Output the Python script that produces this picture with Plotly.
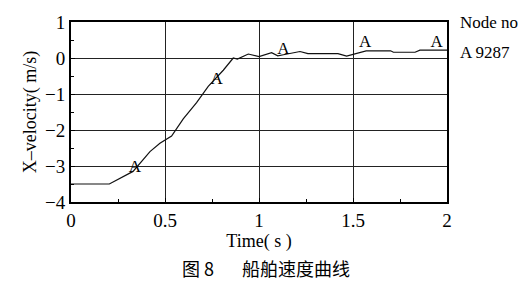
import plotly.graph_objects as go

time_s = [0.0, 0.204, 0.33, 0.42, 0.473, 0.49, 0.535, 0.597, 0.668, 0.73, 0.81, 0.863, 0.885,
          0.943, 1.0, 1.067, 1.10, 1.13, 1.218, 1.26, 1.32, 1.42, 1.466, 1.51, 1.57, 1.70,
          1.715, 1.83, 1.856, 2.0]
velocity = [-3.5, -3.5, -3.15, -2.6, -2.37, -2.32, -2.17, -1.69, -1.24, -0.79, -0.34, 0.0, -0.03,
            0.11, 0.04, 0.15, 0.06, 0.09, 0.18, 0.12, 0.12, 0.12, 0.05, 0.12, 0.2, 0.2,
            0.16, 0.16, 0.22, 0.22]

marker_t = [0.34, 0.775, 1.13, 1.565, 1.945]
marker_v = [-3.05, -0.6, 0.22, 0.42, 0.42]
marker_label = ["A", "A", "A", "A", "A"]

x_ticks = [0, 0.5, 1, 1.5, 2]
x_tick_text = ["0", "0.5", "1", "1.5", "2"]
y_ticks = [1, 0, -1, -2, -3, -4]
y_tick_text = ["1", "0", "−1", "−2", "−3", "−4"]

serif = "Liberation Serif"

fig = go.Figure()
fig.add_trace(go.Scatter(x=time_s, y=velocity, mode="lines",
                         line=dict(color="#111111", width=1.2), showlegend=False,
                         hoverinfo="skip"))
fig.add_trace(go.Scatter(x=marker_t, y=marker_v, mode="text", text=marker_label,
                         textfont=dict(family=serif, size=17, color="#000000"),
                         showlegend=False, hoverinfo="skip"))

fig.update_xaxes(range=[0, 2], tickvals=x_ticks, ticktext=x_tick_text,
                 showgrid=True, gridcolor="#222222", gridwidth=1,
                 showline=True, linecolor="#000000", linewidth=2, mirror=True,
                 ticks="inside", ticklen=4, tickcolor="#000000",
                 minor=dict(dtick=0.25, ticks="inside", ticklen=3, tickcolor="#000000", showgrid=False),
                 tickfont=dict(family=serif, size=19, color="#000000"),
                 title=dict(text="Time( s )", font=dict(family=serif, size=18, color="#000000"), standoff=2),
                 zeroline=False)
fig.update_yaxes(range=[-4, 1], tickvals=y_ticks, ticktext=y_tick_text,
                 showgrid=True, gridcolor="#222222", gridwidth=1,
                 showline=True, linecolor="#000000", linewidth=2, mirror=True,
                 ticks="inside", ticklen=4, tickcolor="#000000",
                 minor=dict(dtick=0.5, ticks="inside", ticklen=3, tickcolor="#000000", showgrid=False),
                 tickfont=dict(family=serif, size=19, color="#000000"),
                 title=dict(text="X–velocity( m/s)", font=dict(family=serif, size=18, color="#000000"), standoff=4),
                 zeroline=False)

fig.add_annotation(text="Node no", xref="paper", yref="paper", x=1.028, y=0.995,
                   xanchor="left", yanchor="middle", showarrow=False,
                   font=dict(family=serif, size=17, color="#000000"))
fig.add_annotation(text="A 9287", xref="paper", yref="paper", x=1.028, y=0.83,
                   xanchor="left", yanchor="middle", showarrow=False,
                   font=dict(family=serif, size=17, color="#000000"))
fig.add_annotation(text="图 8", xref="paper", yref="paper", x=0.338, y=-0.367,
                   xanchor="center", yanchor="middle", showarrow=False,
                   font=dict(family="Noto Sans CJK SC", size=18, color="#000000"))
fig.add_annotation(text="船舶速度曲线", xref="paper", yref="paper", x=0.599, y=-0.367,
                   xanchor="center", yanchor="middle", showarrow=False,
                   font=dict(family="Noto Sans CJK SC", size=18, color="#000000"))

fig.update_layout(width=522, height=283, margin=dict(l=71, r=75, t=17, b=81),
                  paper_bgcolor="white", plot_bgcolor="white")

fig.write_html("out.html")
